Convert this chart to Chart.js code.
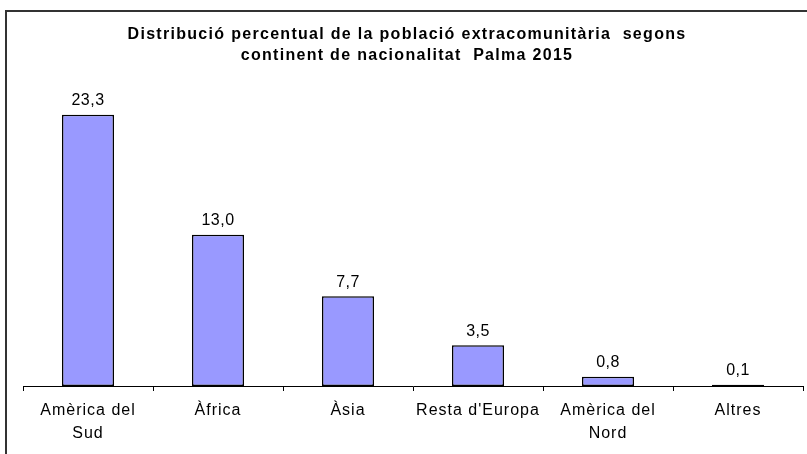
<!DOCTYPE html>
<html>
<head>
<meta charset="utf-8">
<script src="https://cdn.jsdelivr.net/npm/chart.js@4"></script>
<style>
  html, body { margin: 0; padding: 0; background: #fff; }
  canvas { display: block; }
</style>
</head>
<body>
<canvas id="chart" width="807" height="454"></canvas>
<script>
const categories = [['Amèrica del', 'Sud'], 'Àfrica', 'Àsia', "Resta d'Europa", ['Amèrica del', 'Nord'], 'Altres']
const values = [23.3, 13.0, 7.7, 3.5, 0.8, 0.1]
const titleLines = ['Distribució percentual de la població extracomunitària  segons', 'continent de nacionalitat  Palma 2015']

const fontFamily = '"Liberation Sans", Arial, sans-serif'

// frame round the chart, only top and left edge fall inside the picture
const frame = {
  id: 'frame',
  beforeDraw: chart => {
    const ctx = chart.ctx
    ctx.save()
    ctx.fillStyle = '#fff'
    ctx.fillRect(0, 0, chart.width, chart.height)
    ctx.strokeStyle = '#333'
    ctx.lineWidth = 2
    ctx.beginPath()
    ctx.moveTo(6, chart.height + 2)
    ctx.lineTo(6, 11)
    ctx.lineTo(chart.width + 2, 11)
    ctx.stroke()
    ctx.restore()
    // slightly wider letter spacing for the axis labels, like the original
    ctx.letterSpacing = '1px'
  },
}

const chartTitle = {
  id: 'chartTitle',
  afterDraw: chart => {
    const ctx = chart.ctx
    ctx.save()
    ctx.letterSpacing = '1.3px'
    ctx.font = 'bold 16px ' + fontFamily
    ctx.fillStyle = '#000'
    ctx.textAlign = 'center'
    ctx.textBaseline = 'alphabetic'
    ctx.fillText(titleLines[0], 407, 39)
    ctx.fillText(titleLines[1], 407, 60)
    ctx.restore()
  },
}

const valueLabels = {
  id: 'valueLabels',
  afterDatasetsDraw: chart => {
    const ctx = chart.ctx
    ctx.save()
    ctx.letterSpacing = '0.5px'
    ctx.font = '16px ' + fontFamily
    ctx.fillStyle = '#000'
    ctx.textAlign = 'center'
    ctx.textBaseline = 'bottom'
    chart.getDatasetMeta(0).data.forEach((bar, i) => {
      ctx.fillText(values[i].toFixed(1).replace('.', ','), bar.x, bar.y - 6)
    })
    ctx.restore()
  },
}

new Chart(document.getElementById('chart'), {
  type: 'bar',
  data: {
    labels: categories,
    datasets: [{
      data: values,
      backgroundColor: '#9999FF',
      borderColor: '#000',
      borderWidth: 1.5,
      borderSkipped: false,
      barPercentage: 0.4,
      categoryPercentage: 1,
    }],
  },
  plugins: [frame, valueLabels, chartTitle],
  options: {
    animation: false,
    responsive: false,
    layout: {
      padding: { left: 23, right: 4, top: 95, bottom: 0 },
    },
    plugins: {
      legend: { display: false },
      tooltip: { enabled: false },
      title: { display: false },
    },
    scales: {
      y: {
        display: false,
        min: 0,
        max: 25,
      },
      x: {
        grid: {
          display: true,
          offset: true,
          drawOnChartArea: false,
          drawTicks: true,
          tickLength: 5,
          color: '#000',
        },
        border: { display: true, color: '#000', width: 1 },
        ticks: {
          color: '#000',
          maxRotation: 0,
          autoSkip: false,
          padding: 8,
          font: { family: fontFamily, size: 16, lineHeight: 1.45 },
        },
        afterFit: scale => { scale.height = 68 },
      },
    },
  },
})
</script>
</body>
</html>
